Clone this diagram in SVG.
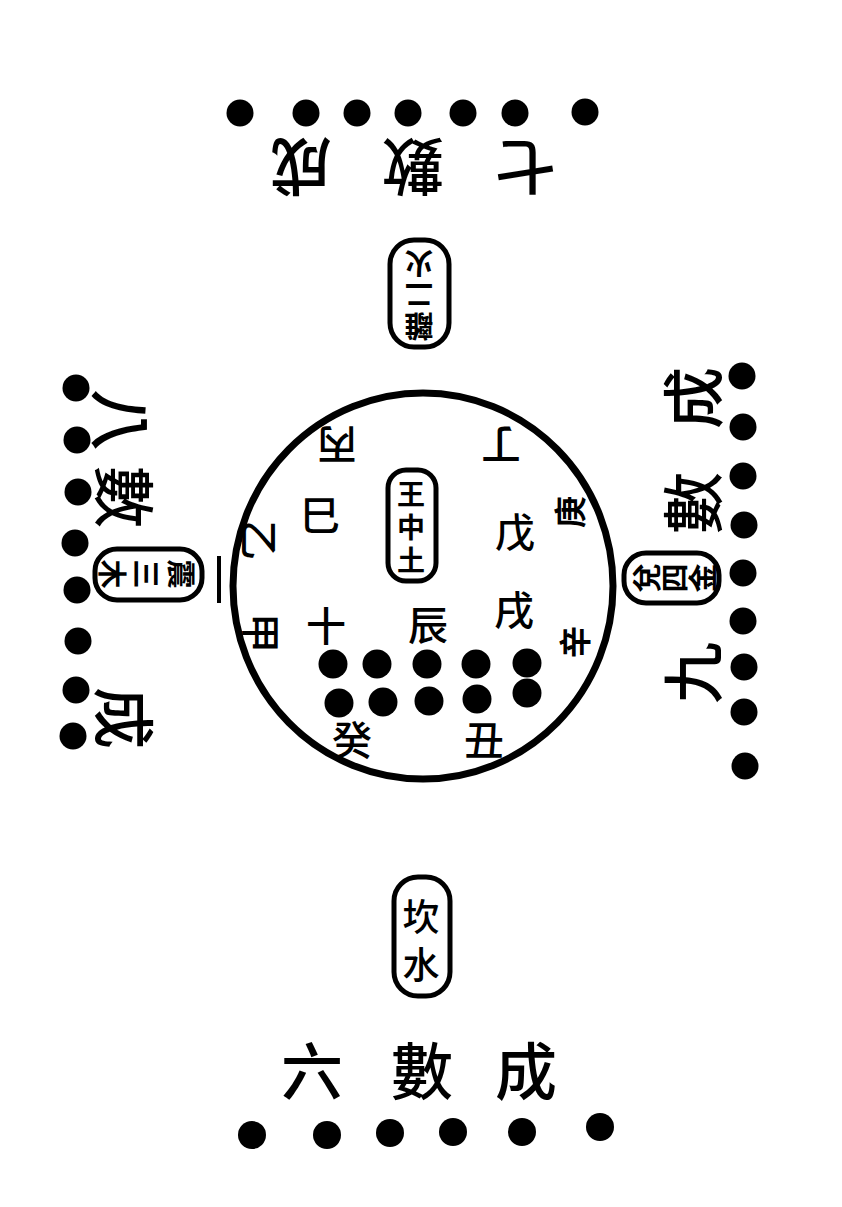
<svg xmlns="http://www.w3.org/2000/svg" width="842" height="1207" viewBox="0 0 842 1207">
<style>
.t{font-family:"Noto Sans CJK TC","Noto Sans CJK SC",sans-serif;fill:#000;text-anchor:middle;dominant-baseline:central}
.v{font-family:"Noto Sans CJK TC","Noto Sans CJK SC",sans-serif;fill:#000;text-anchor:middle;writing-mode:vertical-rl}
.big{font-size:62px;font-weight:500}
.mid{font-size:40px;font-weight:500}
.box{font-size:29px;font-weight:bold}
.dot{fill:#000}
.frame{fill:none;stroke:#000;stroke-width:5}
</style>
<rect width="842" height="1207" fill="#fff"/>

<g id="south">
<circle class="dot" cx="240" cy="113" r="13.5"/>
<circle class="dot" cx="306" cy="113" r="13.5"/>
<circle class="dot" cx="357" cy="113" r="13.5"/>
<circle class="dot" cx="408" cy="113" r="13.5"/>
<circle class="dot" cx="463" cy="113" r="13.5"/>
<circle class="dot" cx="515" cy="113" r="13.5"/>
<circle class="dot" cx="585" cy="112" r="13.5"/>
<text class="t big" x="525" y="170" transform="rotate(180 525 170)">七</text>
<text class="t big" x="413" y="170" transform="rotate(180 413 170)">數</text>
<text class="t big" x="301" y="170" transform="rotate(180 301 170)">成</text>
</g>

<g id="li-box">
<rect class="frame" x="390" y="240" width="59" height="107" rx="24"/>
<text class="t box" x="419" y="265" transform="rotate(180 419 265)">火</text>
<text class="t box" x="419" y="297" transform="rotate(180 419 297)">二</text>
<text class="t box" x="419" y="328" transform="rotate(180 419 328)">離</text>
</g>

<g id="east">
<circle class="dot" cx="76" cy="388" r="13.5"/>
<circle class="dot" cx="77" cy="440" r="13.5"/>
<circle class="dot" cx="78" cy="492" r="13.5"/>
<circle class="dot" cx="75" cy="543" r="13.5"/>
<circle class="dot" cx="77" cy="590" r="13.5"/>
<circle class="dot" cx="78" cy="641" r="13.5"/>
<circle class="dot" cx="76" cy="690" r="13.5"/>
<circle class="dot" cx="73" cy="736" r="13.5"/>
<text class="t big" x="124" y="420" transform="rotate(90 124 420)">八</text>
<text class="t big" x="127" y="497" transform="rotate(90 127 497)">數</text>
<text class="t big" x="127" y="718" transform="rotate(90 127 718)">成</text>
</g>

<g id="zhen-box">
<rect class="frame" x="95" y="549" width="107" height="51" rx="22"/>
<text class="t box" x="114" y="574" transform="rotate(90 114 574)">木</text>
<text class="t box" x="148" y="574" transform="rotate(90 148 574)">三</text>
<text class="t box" x="183" y="574" transform="rotate(90 183 574)">震</text>
<line x1="219" y1="556" x2="219" y2="603" stroke="#000" stroke-width="4"/>
</g>

<g id="west">
<circle class="dot" cx="742" cy="376" r="13.5"/>
<circle class="dot" cx="743" cy="427" r="13.5"/>
<circle class="dot" cx="743" cy="476" r="13.5"/>
<circle class="dot" cx="744" cy="525" r="13.5"/>
<circle class="dot" cx="743" cy="573" r="13.5"/>
<circle class="dot" cx="743" cy="621" r="13.5"/>
<circle class="dot" cx="744" cy="667" r="13.5"/>
<circle class="dot" cx="744" cy="712" r="13.5"/>
<circle class="dot" cx="745" cy="766" r="13.5"/>
<text class="t big" x="690" y="398" transform="rotate(-90 690 398)">成</text>
<text class="t big" x="690" y="503" transform="rotate(-90 690 503)">數</text>
<text class="t big" x="690" y="673" transform="rotate(-90 690 673)">九</text>
</g>

<g id="dui-box">
<rect class="frame" x="624" y="553" width="95" height="50" rx="22"/>
<text class="t box" x="645" y="578" transform="rotate(-90 645 578)">兌</text>
<text class="t box" x="673" y="578" transform="rotate(-90 673 578)">四</text>
<text class="t box" x="701" y="578" transform="rotate(-90 701 578)">金</text>
</g>

<g id="center">
<ellipse cx="423" cy="586" rx="190" ry="193" fill="none" stroke="#000" stroke-width="7"/>
<rect class="frame" x="388" y="470" width="48" height="111" rx="18"/>
<text class="v" style="font-size:28px;font-weight:bold;letter-spacing:5px" x="411" y="530">王中土</text>
<text class="t mid" x="337" y="447" transform="rotate(180 337 447)">丙</text>
<text class="t mid" x="501" y="447" transform="rotate(180 501 447)">丁</text>
<text class="t mid" x="320" y="513">巳</text>
<text class="t mid" x="261" y="540" transform="rotate(90 261 540)">乙</text>
<text class="t mid" x="263" y="633" transform="rotate(90 263 633)">甲</text>
<text class="t mid" x="326" y="624">十</text>
<text class="t mid" x="428" y="623">辰</text>
<text class="t mid" x="515" y="530">戊</text>
<text class="t mid" x="514" y="608">戌</text>
<text class="t" style="font-size:32px;font-weight:bold" x="568" y="512" transform="rotate(-90 568 512)">庚</text>
<text class="t" style="font-size:32px;font-weight:bold" x="573" y="642" transform="rotate(-90 573 642)">辛</text>
<text class="t mid" x="352" y="738">癸</text>
<text class="t mid" x="484" y="738">丑</text>
<circle class="dot" cx="333" cy="664" r="14.5"/>
<circle class="dot" cx="377" cy="664" r="14.5"/>
<circle class="dot" cx="427" cy="664" r="14.5"/>
<circle class="dot" cx="476" cy="664" r="14.5"/>
<circle class="dot" cx="527" cy="663" r="14.5"/>
<circle class="dot" cx="339" cy="703" r="14.5"/>
<circle class="dot" cx="383" cy="702" r="14.5"/>
<circle class="dot" cx="429" cy="701" r="14.5"/>
<circle class="dot" cx="477" cy="699" r="14.5"/>
<circle class="dot" cx="527" cy="693" r="14.5"/>
</g>

<g id="kan-box">
<rect class="frame" x="394" y="877" width="56" height="119" rx="24"/>
<text class="v" style="font-size:37px;font-weight:500;letter-spacing:11px" x="421" y="946">坎水</text>
</g>

<g id="north">
<text class="t big" x="312" y="1068">六</text>
<text class="t big" x="422" y="1068">數</text>
<text class="t big" x="526" y="1068">成</text>
<circle class="dot" cx="252" cy="1135" r="14"/>
<circle class="dot" cx="327" cy="1135" r="14"/>
<circle class="dot" cx="390" cy="1133" r="14"/>
<circle class="dot" cx="453" cy="1132" r="14"/>
<circle class="dot" cx="522" cy="1132" r="14"/>
<circle class="dot" cx="600" cy="1127" r="14"/>
</g>
</svg>
